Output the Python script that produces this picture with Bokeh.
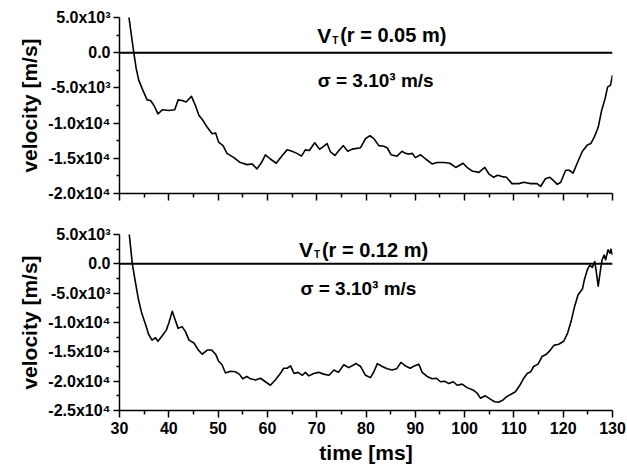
from bokeh.plotting import figure
from bokeh.layouts import column
from bokeh.models import Range1d, Span, Label, FixedTicker
from bokeh.embed import file_html
from bokeh.resources import INLINE

# ---------------- data (velocity in units of 1000 m/s) ----------------
t_top = [31.7, 31.9, 32.9, 33.4, 33.9, 34.6, 35.6, 36.3, 37.0, 37.8, 38.7, 40.0, 41.2, 41.9,
         42.7, 43.5, 44.6, 45.4, 46.1, 46.9, 47.8, 48.8, 49.5, 50.1, 51.0, 51.8, 53.2, 54.5,
         55.9, 56.9, 57.9, 58.8, 59.6, 60.6, 61.8, 63.0, 64.0, 65.0, 66.0, 66.9, 67.7, 68.5,
         69.6, 70.6, 71.2, 72.1, 72.8, 73.7, 74.5, 75.4, 76.3, 77.2, 78.9, 79.9, 80.8, 81.6,
         82.6, 83.6, 84.3, 85.1, 86.3, 87.3, 88.0, 88.7, 89.4, 90.0, 91.1, 92.1, 93.4, 94.4,
         95.8, 97.0, 98.2, 99.7, 100.5, 101.5, 102.9, 104.1, 104.9, 105.9, 106.7, 107.6,
         108.5, 109.6, 111.0, 112.0, 113.4, 114.7, 115.4, 116.4, 117.3, 118.1, 118.8, 119.5,
         120.5, 121.2, 122.0, 122.9, 123.9, 124.9, 125.6, 126.3, 127.1, 127.8, 128.5, 129.0,
         129.6, 130.0]
v_top_k = [6.0, 5.1, 0.0, -2.3, -3.9, -5.1, -6.7, -6.8, -7.5, -8.7, -8.1, -8.2, -8.1, -6.7,
           -6.8, -7.0, -6.2, -7.5, -8.9, -9.6, -10.6, -11.5, -11.4, -12.7, -13.2, -14.3, -14.9,
           -15.6, -15.9, -15.8, -16.5, -15.6, -14.5, -15.1, -15.7, -14.6, -13.8, -14.0, -14.3,
           -14.7, -13.8, -13.9, -12.8, -13.7, -13.4, -12.9, -14.1, -14.6, -13.9, -13.2, -14.0,
           -13.7, -13.5, -12.2, -11.8, -12.2, -13.2, -13.3, -13.5, -14.5, -14.7, -14.0, -14.3,
           -14.4, -14.3, -14.9, -14.5, -15.1, -15.8, -15.6, -15.6, -15.7, -16.3, -15.7, -16.3,
           -16.8, -17.0, -16.3, -17.2, -17.7, -17.4, -17.6, -17.7, -18.6, -18.6, -18.4, -18.6,
           -18.6, -19.0, -17.9, -17.7, -18.2, -18.7, -18.4, -16.7, -16.7, -17.1, -15.6, -14.0,
           -13.1, -12.9, -12.0, -10.6, -8.2, -6.5, -4.9, -4.6, -3.2]

t_bot = [31.8, 32.0, 32.6, 33.1, 33.8, 34.5, 35.3, 35.9, 36.6, 37.3, 37.8, 38.7, 39.5, 40.0,
         40.7, 41.2, 41.9, 42.7, 43.4, 44.1, 45.1, 46.0, 46.8, 47.8, 48.7, 49.5, 50.1, 50.8,
         51.5, 52.5, 53.5, 54.3, 55.0, 55.8, 56.6, 57.6, 58.6, 59.6, 60.6, 61.6, 62.7, 63.3,
         64.0, 64.7, 65.4, 66.2, 67.1, 67.7, 68.4, 69.4, 70.4, 71.4, 72.5, 73.5, 74.4, 75.5,
         76.5, 78.0, 78.9, 79.9, 80.9, 81.6, 82.3, 83.3, 84.3, 85.3, 86.2, 87.1, 88.0, 89.0,
         89.8, 90.7, 91.4, 92.4, 93.4, 94.3, 95.1, 95.9, 96.8, 97.7, 98.5, 99.5, 100.5, 101.7,
         102.6, 103.2, 104.2, 105.3, 106.1, 106.9, 107.8, 108.6, 109.7, 110.3, 111.2, 112.0,
         112.7, 113.4, 114.0, 114.9, 115.7, 116.6, 117.4, 118.1, 119.1, 120.1, 120.9, 121.6,
         122.3, 123.0, 123.9, 124.3, 124.9, 125.4, 125.9, 126.4, 126.8, 127.1, 127.6, 127.9,
         128.3, 128.6, 129.1, 129.5, 129.7, 130.0]
v_bot_k = [6.0, 4.9, 0.0, -2.5, -5.9, -8.4, -10.4, -12.0, -13.0, -12.6, -13.2, -12.2, -11.3,
           -10.1, -8.1, -9.3, -11.0, -10.7, -11.6, -13.0, -13.5, -14.7, -15.4, -14.7, -14.7,
           -15.4, -16.6, -17.2, -18.6, -18.3, -18.4, -18.8, -19.6, -19.2, -19.6, -19.8, -19.5,
           -20.1, -20.7, -19.8, -18.6, -17.8, -17.8, -17.4, -18.7, -18.5, -19.0, -18.5, -19.1,
           -18.7, -18.5, -18.8, -19.0, -18.1, -18.5, -17.2, -17.7, -17.0, -17.5, -19.0, -19.4,
           -18.4, -17.0, -17.5, -17.9, -18.1, -17.9, -16.8, -17.4, -17.8, -17.4, -17.1, -18.5,
           -19.2, -19.6, -19.5, -20.1, -20.0, -20.4, -20.1, -20.7, -20.5, -21.1, -21.5, -22.1,
           -22.9, -22.5, -23.1, -23.5, -23.6, -23.2, -22.6, -22.1, -21.8, -20.7, -19.5, -18.7,
           -18.4, -17.5, -17.1, -15.8, -15.4, -14.7, -13.9, -13.7, -13.2, -11.8, -9.8, -7.3,
           -5.3, -4.3, -2.7, -1.0, -0.2, -0.6, 0.4, -1.9, -3.8, -0.8, 0.7, 1.5, 0.7, 2.4, 1.8,
           2.5, 1.5]

v_top = [v * 1000 for v in v_top_k]
v_bot = [v * 1000 for v in v_bot_k]

x_ticks = [30, 40, 50, 60, 70, 80, 90, 100, 110, 120, 130]
x_minor = [35, 45, 55, 65, 75, 85, 95, 105, 115, 125]

top_y_ticks = [5000, 0, -5000, -10000, -15000, -20000]
top_y_minor = [2500, -2500, -7500, -12500, -17500]
top_y_labels = ["5.0x10\u00b3", "0.0", "-5.0x10\u00b3", "-1.0x10\u2074", "-1.5x10\u2074", "-2.0x10\u2074"]

bot_y_ticks = [5000, 0, -5000, -10000, -15000, -20000, -25000]
bot_y_minor = [2500, -2500, -7500, -12500, -17500, -22500]
bot_y_labels = ["5.0x10\u00b3", "0.0", "-5.0x10\u00b3", "-1.0x10\u2074", "-1.5x10\u2074",
                "-2.0x10\u2074", "-2.5x10\u2074"]

FONT = "Liberation Sans"


def make_fig(ymin, ymax, yticks, yminor, ylabels, top_border, bottom_border, show_x_labels):
    p = figure(frame_width=493, frame_height=176, width=627,
               x_range=Range1d(30, 130), y_range=Range1d(ymin, ymax),
               output_backend="svg", toolbar_location=None,
               min_border_left=119, min_border_right=15,
               min_border_top=top_border, min_border_bottom=bottom_border)
    p.outline_line_color = None
    p.grid.visible = False
    p.background_fill_color = "white"
    p.border_fill_color = "white"

    xa = p.xaxis[0]
    xa.ticker = FixedTicker(ticks=x_ticks, minor_ticks=x_minor)
    xa.axis_line_width = 1.5
    xa.major_tick_line_width = 1.5
    xa.minor_tick_line_width = 1.5
    xa.major_tick_in = 0
    xa.major_tick_out = 7
    xa.minor_tick_in = 0
    xa.minor_tick_out = 4
    xa.major_label_text_font = FONT
    xa.major_label_text_font_style = "bold"
    xa.major_label_text_font_size = "16px"
    xa.major_label_text_color = "black"
    xa.major_label_standoff = 4
    if show_x_labels:
        xa.axis_label = "time [ms]"
        xa.axis_label_text_font = FONT
        xa.axis_label_text_font_style = "bold"
        xa.axis_label_text_font_size = "21px"
        xa.axis_label_text_color = "black"
        xa.axis_label_standoff = 4
    else:
        xa.major_label_text_font_size = "0px"
        xa.major_label_text_color = None

    ya = p.yaxis[0]
    ya.ticker = FixedTicker(ticks=yticks, minor_ticks=yminor)
    ya.major_label_overrides = {float(k): s for k, s in zip(yticks, ylabels)}
    ya.axis_line_width = 1.5
    ya.major_tick_line_width = 1.5
    ya.minor_tick_line_width = 1.5
    ya.major_tick_in = 0
    ya.major_tick_out = 6
    ya.minor_tick_in = 0
    ya.minor_tick_out = 3
    ya.major_label_text_font = FONT
    ya.major_label_text_font_style = "bold"
    ya.major_label_text_font_size = "16px"
    ya.major_label_text_color = "black"
    ya.major_label_standoff = 3
    ya.axis_label = "velocity [m/s]"
    ya.axis_label_text_font = FONT
    ya.axis_label_text_font_style = "bold"
    ya.axis_label_text_font_size = "21px"
    ya.axis_label_text_color = "black"
    ya.axis_label_standoff = 4

    p.add_layout(Span(location=0, dimension="width", line_color="black", line_width=2))
    return p


def add_annot(p, x, y, rtext, sx, sy):
    common = dict(text_font=FONT, text_font_style="bold", text_color="black",
                  text_baseline="alphabetic")
    p.add_layout(Label(x=x, y=y, text="V", text_font_size="21px", **common))
    p.add_layout(Label(x=x, y=y, x_offset=15, y_offset=-5, text="T",
                       text_font_size="10px", **common))
    p.add_layout(Label(x=x, y=y, x_offset=23, text=rtext, text_font_size="20px", **common))
    p.add_layout(Label(x=sx, y=sy, text="\u03c3 = 3.10\u00b3 m/s", text_font_size="19px",
                       **common))


p1 = make_fig(-20000, 5000, top_y_ticks, top_y_minor, top_y_labels, 17, 26, False)
p1.line(t_top, v_top, line_color="black", line_width=1.6, line_join="round")
add_annot(p1, 70.1, 2480, "(r = 0.05 m)", 70.2, -3930)

p2 = make_fig(-25000, 5000, bot_y_ticks, bot_y_minor, bot_y_labels, 15, 57, True)
p2.line(t_bot, v_bot, line_color="black", line_width=1.6, line_join="round")
add_annot(p2, 66.4, 2440, "(r = 0.12 m)", 66.7, -4200)

layout = column(p1, p2, spacing=0)
open("out.html", "w").write(file_html(layout, INLINE))
